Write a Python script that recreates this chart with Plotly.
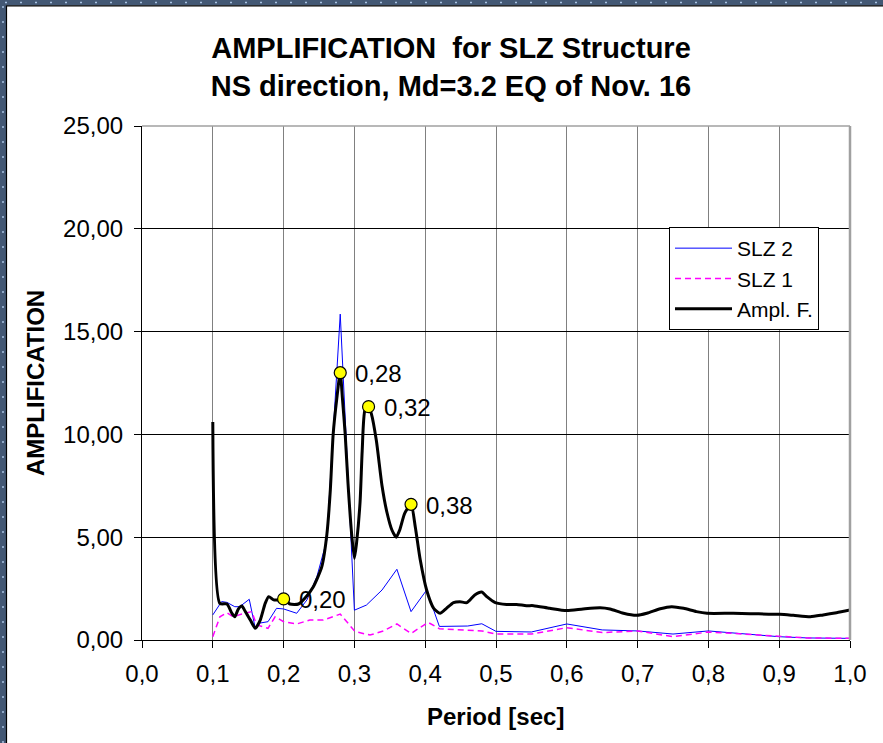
import plotly.graph_objects as go

# ---------------- data ----------------
amp_x = [0.100, 0.110, 0.120, 0.127, 0.131, 0.136, 0.141, 0.146, 0.153, 0.160, 0.167, 0.174, 0.179,
         0.186, 0.193, 0.200, 0.209, 0.221, 0.230, 0.242, 0.254, 0.261, 0.266, 0.270, 0.275, 0.280,
         0.283, 0.287, 0.291, 0.296, 0.300, 0.303, 0.308, 0.311, 0.315, 0.320, 0.324, 0.331, 0.339,
         0.346, 0.353, 0.359, 0.364, 0.371, 0.380, 0.386, 0.393, 0.402, 0.412, 0.421, 0.430, 0.440,
         0.449, 0.459, 0.470, 0.480, 0.487, 0.499, 0.515, 0.529, 0.543, 0.553, 0.576, 0.600, 0.623,
         0.647, 0.661, 0.680, 0.699, 0.713, 0.732, 0.748, 0.765, 0.783, 0.798, 0.835, 0.859, 0.901,
         0.920, 0.944, 0.962, 0.981, 1.000]
amp_y = [10.60, 1.78, 1.75, 1.30, 1.13, 1.50, 1.65, 1.38, 0.97, 0.57, 0.97, 1.78, 2.11,
         1.95, 1.95, 2.00, 1.75, 1.75, 2.03, 2.59, 3.57, 5.10, 7.30, 10.00, 11.70, 13.00,
         11.80, 10.00, 7.60, 5.20, 3.97, 4.70, 6.70, 9.20, 11.20, 11.35, 11.00, 9.70, 7.50,
         6.20, 5.35, 5.00, 5.35, 6.16, 6.60, 5.50, 3.90, 2.43, 1.54, 1.30, 1.54, 1.82,
         1.86, 1.82, 2.19, 2.33, 2.11, 1.82, 1.73, 1.73, 1.67, 1.67, 1.54, 1.43, 1.51,
         1.57, 1.51, 1.30, 1.20, 1.30, 1.52, 1.62, 1.54, 1.38, 1.30, 1.30, 1.28, 1.25,
         1.20, 1.13, 1.22, 1.33, 1.46]

slz2_x = [0.100, 0.1125, 0.120, 0.131, 0.138, 0.1515, 0.160, 0.164, 0.178, 0.190, 0.200, 0.2185,
          0.233, 0.247, 0.261, 0.280, 0.300, 0.317, 0.339, 0.360, 0.380, 0.402, 0.420, 0.460,
          0.480, 0.500, 0.550, 0.600, 0.650, 0.700, 0.750, 0.800, 0.900, 0.940, 1.000]
slz2_y = [1.22, 1.87, 1.83, 1.62, 1.62, 1.98, 0.57, 0.81, 0.89, 1.54, 1.51, 1.30,
          1.95, 3.08, 4.86, 15.85, 1.45, 1.70, 2.43, 3.44, 1.38, 2.43, 0.66, 0.68,
          0.79, 0.42, 0.39, 0.78, 0.49, 0.44, 0.29, 0.44, 0.16, 0.10, 0.08]

slz1_x = [0.100, 0.110, 0.120, 0.129, 0.141, 0.155, 0.162, 0.178, 0.188, 0.200, 0.2185, 0.237,
          0.256, 0.280, 0.301, 0.322, 0.341, 0.360, 0.380, 0.404, 0.420, 0.480, 0.500, 0.550,
          0.600, 0.650, 0.700, 0.750, 0.800, 0.900, 0.940, 1.000]
slz1_y = [0.16, 1.13, 1.33, 1.13, 1.26, 1.38, 0.73, 0.57, 1.13, 0.89, 0.78, 0.97,
          0.97, 1.26, 0.41, 0.24, 0.44, 0.78, 0.32, 0.86, 0.55, 0.44, 0.29, 0.29,
          0.60, 0.36, 0.44, 0.16, 0.39, 0.16, 0.10, 0.08]

peak_x = [0.20, 0.28, 0.32, 0.38]
peak_y = [2.00, 13.00, 11.35, 6.60]
peak_labels = [f"{v:.2f}".replace(".", ",") for v in peak_x]

title_lines = ["AMPLIFICATION  for SLZ Structure", "NS direction, Md=3.2 EQ of Nov. 16"]
x_title = "Period [sec]"
y_title = "AMPLIFICATION"

FONT = "Liberation Sans, Arial, sans-serif"

# ---------------- layout geometry (pixels) ----------------
W, H = 883, 743
L, R, T, B = 142, 850, 126, 640
pw, ph = R - L, B - T


def px(xp):
    return (xp - L) / pw


def py(yp):
    return (B - yp) / ph


fig = go.Figure()

fig.add_trace(go.Scatter(x=slz2_x, y=slz2_y, mode="lines", name="SLZ 2",
                         line=dict(color="#0000FF", width=1)))
fig.add_trace(go.Scatter(x=slz1_x, y=slz1_y, mode="lines", name="SLZ 1",
                         line=dict(color="#FF00FF", width=1.5, dash="6px,4px")))
fig.add_trace(go.Scatter(x=amp_x, y=amp_y, mode="lines", name="Ampl. F.",
                         line=dict(color="#000000", width=3, shape="spline", smoothing=0.6)))
fig.add_trace(go.Scatter(x=peak_x, y=peak_y, mode="markers", showlegend=False,
                         marker=dict(color="#FFFF00", size=12,
                                     line=dict(color="#000000", width=1.2))))

shapes = []
# plot area top / right border (gray)
shapes.append(dict(type="line", xref="paper", yref="paper", x0=0, x1=1, y0=1, y1=1,
                   line=dict(color="#A0A0A0", width=1.5), layer="above"))
shapes.append(dict(type="line", xref="paper", yref="paper", x0=1, x1=1, y0=0, y1=1,
                   line=dict(color="#A0A0A0", width=2.5), layer="above"))
# outer dark frame (left & top) with dots
frame = "#435874"
shapes.append(dict(type="rect", xref="paper", yref="paper", x0=px(0), x1=px(6.5),
                   y0=py(H), y1=py(0), fillcolor=frame, line=dict(width=0), layer="above"))
shapes.append(dict(type="rect", xref="paper", yref="paper", x0=px(0), x1=px(W),
                   y0=py(5.5), y1=py(0), fillcolor=frame, line=dict(width=0), layer="above"))
shapes.append(dict(type="line", xref="paper", yref="paper", x0=px(6.5), x1=px(6.5),
                   y0=py(H), y1=py(5.5), line=dict(color="#000000", width=1.2), layer="above"))
shapes.append(dict(type="line", xref="paper", yref="paper", x0=px(6.5), x1=px(W),
                   y0=py(5.8), y1=py(5.8), line=dict(color="#000000", width=1.2), layer="above"))
shapes.append(dict(type="line", xref="paper", yref="paper", x0=px(3), x1=px(3),
                   y0=py(H), y1=py(4), line=dict(color="#A9C2E2", width=1.5, dash="2px,13px"),
                   layer="above"))
shapes.append(dict(type="line", xref="paper", yref="paper", x0=px(5), x1=px(W),
                   y0=py(2.5), y1=py(2.5), line=dict(color="#A9C2E2", width=1.5, dash="2px,13px"),
                   layer="above"))

annotations = [
    dict(text=f"<b>{y_title}</b>", xref="paper", yref="paper", x=px(35), y=0.5,
         xanchor="center", yanchor="middle", textangle=-90, showarrow=False,
         font=dict(family=FONT, size=24, color="#000000")),
    dict(text=f"<b>{x_title}</b>", xref="paper", yref="paper", x=px(495), y=py(716),
         xanchor="center", yanchor="middle", showarrow=False,
         font=dict(family=FONT, size=24, color="#000000")),
]
for xv, yv, lab in zip(peak_x, peak_y, peak_labels):
    annotations.append(dict(text=lab, x=xv, y=yv, xref="x", yref="y", showarrow=False,
                            xanchor="left", yanchor="middle", xshift=13, yshift=-1,
                            font=dict(family=FONT, size=24, color="#000000")))

fig.update_layout(
    width=W, height=H,
    margin=dict(l=L, r=W - R, t=T, b=H - B, pad=0),
    paper_bgcolor="#FFFFFF", plot_bgcolor="#FFFFFF",
    separators=",.",
    font=dict(family=FONT, size=24, color="#000000"),
    title=dict(text="<br>".join(title_lines), x=451 / W, xanchor="center",
               y=1 - 58 / H, yanchor="middle", yref="container",
               font=dict(family=FONT, size=29, color="#000000", weight="bold")),
    xaxis=dict(range=[0, 1], dtick=0.1, tick0=0, tickformat=".1f",
               showgrid=True, gridcolor="#808080", gridwidth=1,
               showline=True, linecolor="#000000", linewidth=1.2,
               ticks="outside", ticklen=7, tickcolor="#000000",
               zeroline=False, tickfont=dict(size=24), ticklabelstandoff=5),
    yaxis=dict(range=[0, 25], dtick=5, tick0=0, tickformat=".2f",
               showgrid=True, gridcolor="#000000", gridwidth=1,
               showline=True, linecolor="#000000", linewidth=1.2,
               ticks="outside", ticklen=7, tickcolor="#000000",
               zeroline=False, tickfont=dict(size=24), ticklabelstandoff=6),
    legend=dict(x=px(669), y=py(227), xanchor="left", yanchor="top",
                bgcolor="#FFFFFF", bordercolor="#000000", borderwidth=1,
                font=dict(family=FONT, size=21, color="#000000"),
                itemwidth=57, tracegroupgap=0),
    shapes=shapes,
    annotations=annotations,
    showlegend=True,
)

fig.write_html("out.html")
